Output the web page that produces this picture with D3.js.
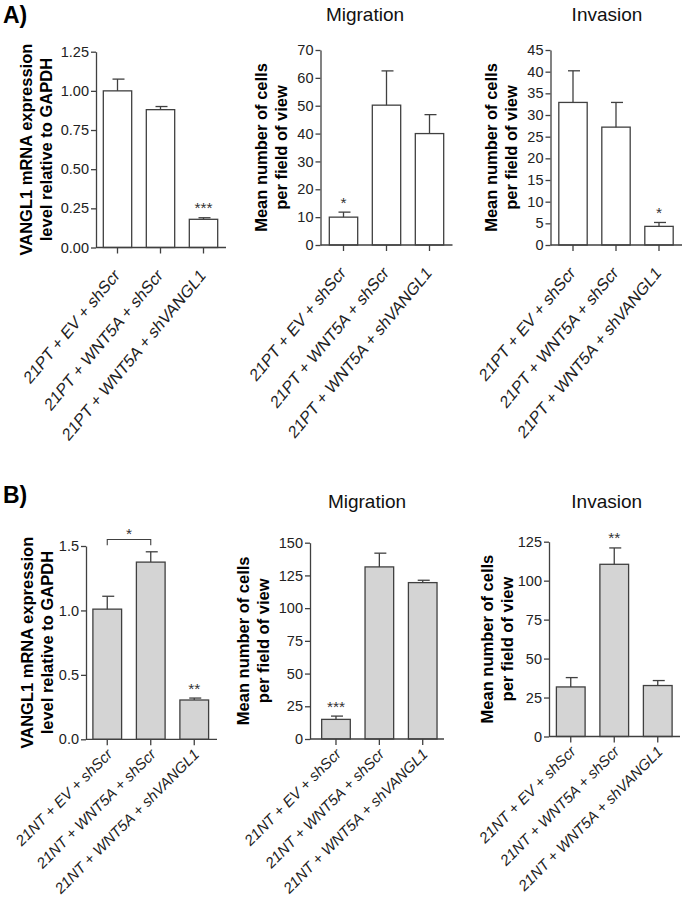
<!DOCTYPE html>
<html>
<head>
<meta charset="utf-8">
<script src="https://cdn.jsdelivr.net/npm/d3@7"></script>
<style>
html,body{margin:0;padding:0;background:#fff;}
svg{display:block;font-family:Arial,"Liberation Sans",sans-serif;}
</style>
</head>
<body>
<svg id="chart" width="685" height="901"></svg>
<script>
// ---------- data ----------
const catsA = ["21PT + EV + shScr", "21PT + WNT5A + shScr", "21PT + WNT5A + shVANGL1"];
const catsB = ["21NT + EV + shScr", "21NT + WNT5A + shScr", "21NT + WNT5A + shVANGL1"];

const a1Mean = [1.00, 0.88, 0.18];
const a1Err  = [0.075, 0.02, 0.01];
const a1Sig  = ["", "", "***"];
const a1Ticks = [0, 0.25, 0.5, 0.75, 1.0, 1.25];

const a2Mean = [10.0, 50.2, 40.0];
const a2Err  = [1.8, 12.3, 6.8];
const a2Sig  = ["*", "", ""];
const a2Ticks = [0, 10, 20, 30, 40, 50, 60, 70];

const a3Mean = [32.9, 27.2, 4.3];
const a3Err  = [7.3, 5.7, 0.9];
const a3Sig  = ["", "", "*"];
const a3Ticks = [0, 5, 10, 15, 20, 25, 30, 35, 40, 45];

const b1Mean = [1.01, 1.375, 0.305];
const b1Err  = [0.10, 0.08, 0.015];
const b1Sig  = ["", "", "**"];
const b1Ticks = [0, 0.5, 1.0, 1.5];
const b1Bracket = [{from: 0, to: 1, y: 1.55, leg: 1.505, label: "*"}];

const b2Mean = [15.0, 131.5, 119.5];
const b2Err  = [2.5, 10.5, 1.8];
const b2Sig  = ["***", "", ""];
const b2Ticks = [0, 25, 50, 75, 100, 125, 150];

const b3Mean = [31.8, 110.5, 32.7];
const b3Err  = [6.0, 10.5, 3.2];
const b3Sig  = ["", "**", ""];
const b3Ticks = [0, 25, 50, 75, 100, 125];

const titleMig = "Migration", titleInv = "Invasion";
const yTitleMRNA = ["VANGL1 mRNA expression", "level relative to GAPDH"];
const yTitleCells = ["Mean number of cells", "per field of view"];

// ---------- layout ----------
const labA = {size: 15, stretch: 1.2, dx: 3, dy: 29, italic: false};
const labB = {size: 15, stretch: 1.0, dx: 6, dy: 16, italic: true};

const panels = [
  {cats: catsA, mean: a1Mean, err: a1Err, sig: a1Sig, ticks: a1Ticks, fmt: d3.format(".2f"),
   ax: 96, x1: 226, band: [96, 225], yTop: 51.7, yBot: 247.5, fill: "#ffffff", lab: labA,
   ytitle: yTitleMRNA, ytx: [26.7, 46.7], title: null},
  {cats: catsA, mean: a2Mean, err: a2Err, sig: a2Sig, ticks: a2Ticks, fmt: d3.format("d"),
   ax: 320.5, x1: 452.5, band: [322, 451], yTop: 50, yBot: 245, fill: "#ffffff", lab: labA,
   ytitle: yTitleCells, ytx: [261.7, 281.7], title: titleMig, tx: 365, ty: 20.5},
  {cats: catsA, mean: a3Mean, err: a3Err, sig: a3Sig, ticks: a3Ticks, fmt: d3.format("d"),
   ax: 550.5, x1: 682, band: [551.5, 680.5], yTop: 50, yBot: 245, fill: "#ffffff", lab: labA,
   ytitle: yTitleCells, ytx: [491.7, 511.7], title: titleInv, tx: 607, ty: 20.5},
  {cats: catsB, mean: b1Mean, err: b1Err, sig: b1Sig, ticks: b1Ticks, fmt: d3.format(".1f"),
   ax: 86, x1: 217, band: [85.5, 216], yTop: 546, yBot: 739.3, fill: "#d4d4d4", lab: labB,
   ytitle: yTitleMRNA, ytx: [27.5, 47.5], title: null, bracket: b1Bracket},
  {cats: catsB, mean: b2Mean, err: b2Err, sig: b2Sig, ticks: b2Ticks, fmt: d3.format("d"),
   ax: 310, x1: 444, band: [314.3, 444.4], yTop: 542.7, yBot: 739, fill: "#d4d4d4", lab: labB,
   ytitle: yTitleCells, ytx: [243.3, 263.3], title: titleMig, tx: 367, ty: 507.5},
  {cats: catsB, mean: b3Mean, err: b3Err, sig: b3Sig, ticks: b3Ticks, fmt: d3.format("d"),
   ax: 549, x1: 680, band: [549, 679.5], yTop: 541.7, yBot: 736.5, fill: "#d4d4d4", lab: labB,
   ytitle: yTitleCells, ytx: [487.3, 507.3], title: titleInv, tx: 606.7, ty: 507.5}
];

const LINE = "#404040";
const svg = d3.select("#chart");

// panel letters
svg.append("text").attr("x", 3).attr("y", 23).attr("font-size", 23).attr("font-weight", "bold").text("A)");
svg.append("text").attr("x", 3).attr("y", 503).attr("font-size", 23).attr("font-weight", "bold").text("B)");

panels.forEach(p => {
  const g = svg.append("g");
  const x = d3.scaleBand().domain(p.cats).range(p.band).paddingInner(0.34).paddingOuter(0.17);
  const y = d3.scaleLinear().domain([0, p.ticks[p.ticks.length - 1]]).range([p.yBot, p.yTop]);

  // bars
  g.selectAll("rect.bar").data(p.cats).enter().append("rect")
    .attr("x", d => x(d)).attr("width", x.bandwidth())
    .attr("y", (d, i) => y(p.mean[i])).attr("height", (d, i) => y(0) - y(p.mean[i]))
    .attr("fill", p.fill).attr("stroke", LINE).attr("stroke-width", 1.3);

  // error bars (upper)
  p.cats.forEach((c, i) => {
    const cx = x(c) + x.bandwidth() / 2;
    const yt = y(p.mean[i] + p.err[i]);
    g.append("line").attr("x1", cx).attr("x2", cx).attr("y1", y(p.mean[i])).attr("y2", yt)
      .attr("stroke", LINE).attr("stroke-width", 1.3);
    g.append("line").attr("x1", cx - 5).attr("x2", cx + 7).attr("y1", yt).attr("y2", yt)
      .attr("stroke", LINE).attr("stroke-width", 1.3);
    if (p.sig[i]) {
      g.append("text").attr("x", cx).attr("y", yt - 4.5).attr("text-anchor", "middle")
        .attr("font-size", 15.5).attr("fill", "#333").text(p.sig[i]);
    }
  });

  // bracket
  (p.bracket || []).forEach(b => {
    const xa = x(p.cats[b.from]) + x.bandwidth() / 2;
    const xb = x(p.cats[b.to]) + x.bandwidth() / 2;
    g.append("path")
      .attr("d", `M${xa},${y(b.leg)}V${y(b.y)}H${xb}V${y(b.leg)}`)
      .attr("fill", "none").attr("stroke", LINE).attr("stroke-width", 1.1);
    g.append("text").attr("x", (xa + xb) / 2).attr("y", y(b.y) - 1).attr("text-anchor", "middle")
      .attr("font-size", 15.5).attr("fill", "#333").text(b.label);
  });

  // y axis
  const ya = g.append("g").attr("transform", `translate(${p.ax},0)`)
    .call(d3.axisLeft(y).tickValues(p.ticks).tickFormat(p.fmt).tickSize(5).tickSizeOuter(0).tickPadding(2));
  ya.select(".domain").attr("stroke", LINE).attr("stroke-width", 1.3);
  ya.selectAll(".tick line").attr("stroke", LINE).attr("stroke-width", 1.3);
  ya.selectAll(".tick text").attr("font-size", 14.5).attr("fill", "#222")
    .attr("font-family", "Arial, 'Liberation Sans', sans-serif");

  // x axis
  g.append("line").attr("x1", p.ax).attr("x2", p.x1).attr("y1", p.yBot).attr("y2", p.yBot)
    .attr("stroke", LINE).attr("stroke-width", 1.3);
  const xa = g.append("g").attr("transform", `translate(0,${p.yBot})`)
    .call(d3.axisBottom(x).tickSize(6).tickSizeOuter(0).tickFormat(""));
  xa.select(".domain").remove();
  xa.selectAll(".tick line").attr("stroke", LINE).attr("stroke-width", 1.3);

  // x labels
  const L = p.lab;
  g.selectAll("text.xl").data(p.cats).enter().append("text")
    .attr("text-anchor", "end").attr("font-size", L.size).attr("fill", "#222")
    .attr("font-style", L.italic ? "italic" : "normal")
    .attr("transform", d => `translate(${x(d) + x.bandwidth() / 2 + L.dx},${p.yBot + L.dy}) scale(1,${L.stretch}) rotate(-45)`)
    .text(d => d);

  // y titles
  const yc = (p.yTop + p.yBot) / 2;
  p.ytitle.forEach((t, k) => {
    g.append("text").attr("text-anchor", "middle").attr("font-size", 16.5).attr("font-weight", "bold")
      .attr("transform", `translate(${p.ytx[k] + 5.5},${yc}) rotate(-90)`).text(t);
  });

  // chart title
  if (p.title) {
    g.append("text").attr("x", p.tx).attr("y", p.ty).attr("text-anchor", "middle")
      .attr("font-size", 19).attr("fill", "#111").text(p.title);
  }
});
</script>
</body>
</html>
